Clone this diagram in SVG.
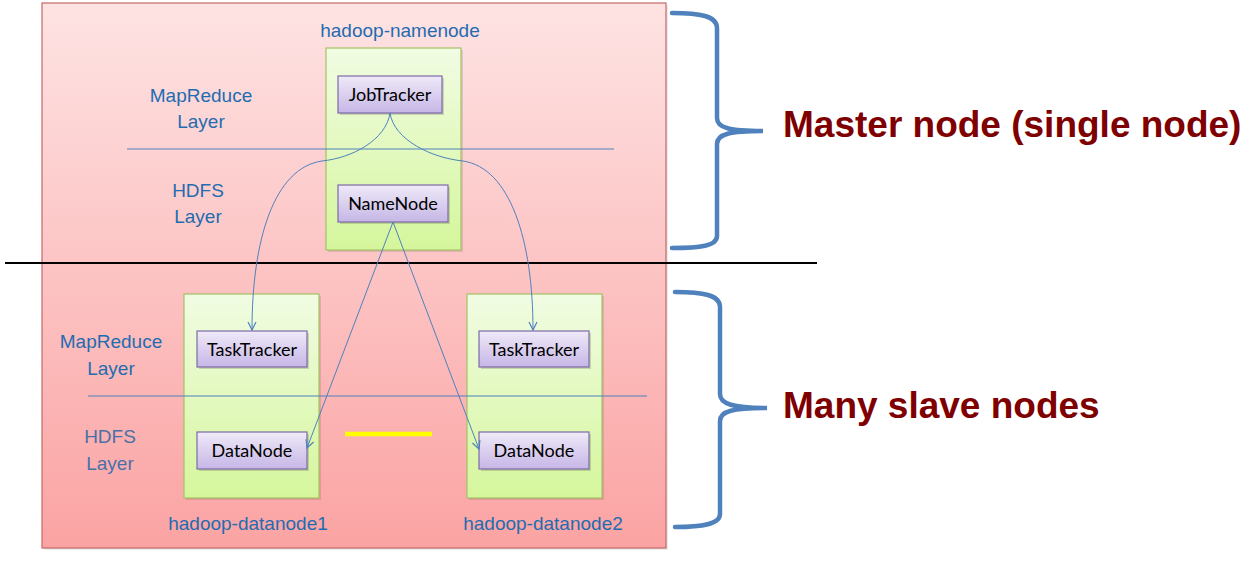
<svg xmlns="http://www.w3.org/2000/svg" width="1256" height="567" viewBox="0 0 1256 567">
<defs>
<linearGradient id="bg" x1="0" y1="0" x2="0" y2="1">
<stop offset="0" stop-color="#fee3e3"/>
<stop offset="1" stop-color="#fba3a3"/>
</linearGradient>
<linearGradient id="gr" x1="0" y1="0" x2="0" y2="1">
<stop offset="0" stop-color="#f1fce3"/>
<stop offset="1" stop-color="#d5f69c"/>
</linearGradient>
<linearGradient id="pu" x1="0" y1="0" x2="0" y2="1">
<stop offset="0" stop-color="#efeaf8"/>
<stop offset="1" stop-color="#c6b6e6"/>
</linearGradient>
<marker id="arr" viewBox="0 0 10 10" refX="9" refY="5" markerWidth="10" markerHeight="10" markerUnits="userSpaceOnUse" orient="auto">
<path d="M1,1 L9,5 L1,9" fill="none" stroke="#4f81bd" stroke-width="1.2"/>
</marker>
</defs>
<style>
.lbl{font-family:"Liberation Sans",Arial,sans-serif;font-size:19px;fill:#1f6cb0;text-anchor:middle}
.node{font-family:Lato,"Liberation Sans",sans-serif;font-size:18px;fill:#000;text-anchor:middle}
.big{font-family:"Liberation Sans",Arial,sans-serif;font-size:37px;font-weight:bold;fill:#7f0000}
.host{fill:url(#gr);stroke:#a3c263;stroke-width:1.2}
.proc{fill:url(#pu);stroke:#7d6aa8;stroke-width:1.2}
.layer{stroke:#4f81bd;stroke-width:1;fill:none}
.conn{stroke:#4f81bd;stroke-width:1;fill:none}
.brace{stroke:#4f81bd;stroke-width:4.5;fill:none;stroke-linecap:round}
</style>
<rect width="1256" height="567" fill="#fff"/>
<g id="cluster">
<rect x="44" y="5" width="624" height="545" fill="#000" opacity="0.08"/>
<rect x="42" y="3" width="624" height="545" fill="url(#bg)" stroke="#c46868" stroke-width="1.2"/>
<text class="lbl" x="201" y="102">MapReduce</text>
<text class="lbl" x="201" y="128">Layer</text>
<text class="lbl" x="198" y="197">HDFS</text>
<text class="lbl" x="198" y="223">Layer</text>
<text class="lbl" x="111" y="348">MapReduce</text>
<text class="lbl" x="111" y="375">Layer</text>
<text class="lbl" x="110" y="443" style="fill:#4a70a8">HDFS</text>
<text class="lbl" x="110" y="470" style="fill:#4a70a8">Layer</text>
<line x1="345" y1="434" x2="432" y2="434" stroke="#ffff00" stroke-width="4.5"/>
</g>
<line x1="5" y1="263" x2="817" y2="263" stroke="#000" stroke-width="2"/>
<g id="hadoop-namenode">
<rect x="328" y="50" width="135" height="202" fill="#000" opacity="0.1"/>
<rect class="host" x="326" y="48" width="135" height="202"/>
<text class="lbl" x="400" y="37">hadoop-namenode</text>
</g>
<g id="hadoop-datanode1">
<rect x="186" y="296" width="135" height="204" fill="#000" opacity="0.1"/>
<rect class="host" x="184" y="294" width="135" height="204"/>
<text class="lbl" x="248" y="530">hadoop-datanode1</text>
</g>
<g id="hadoop-datanode2">
<rect x="469" y="296" width="135" height="204" fill="#000" opacity="0.1"/>
<rect class="host" x="467" y="294" width="135" height="204"/>
<text class="lbl" x="543" y="530">hadoop-datanode2</text>
</g>
<g id="layer-lines">
<line class="layer" x1="127" y1="149" x2="614" y2="149"/>
<line class="layer" x1="88" y1="396" x2="647" y2="396"/>
</g>
<g id="jobtracker">
<rect x="340" y="78" width="104" height="37" fill="#000" opacity="0.15"/>
<rect class="proc" x="338" y="76" width="104" height="37"/>
<text class="node" x="390" y="101">JobTracker</text>
</g>
<g id="namenode">
<rect x="340" y="187" width="110" height="37" fill="#000" opacity="0.15"/>
<rect class="proc" x="338" y="185" width="110" height="37"/>
<text class="node" x="393" y="210">NameNode</text>
</g>
<g id="tasktracker1">
<rect x="199" y="333" width="110" height="36" fill="#000" opacity="0.15"/>
<rect class="proc" x="197" y="331" width="110" height="36"/>
<text class="node" x="252" y="356">TaskTracker</text>
</g>
<g id="datanode1">
<rect x="199" y="434" width="110" height="37" fill="#000" opacity="0.15"/>
<rect class="proc" x="197" y="432" width="110" height="37"/>
<text class="node" x="252" y="457">DataNode</text>
</g>
<g id="tasktracker2">
<rect x="481" y="333" width="110" height="36" fill="#000" opacity="0.15"/>
<rect class="proc" x="479" y="331" width="110" height="36"/>
<text class="node" x="534" y="356">TaskTracker</text>
</g>
<g id="datanode2">
<rect x="481" y="434" width="110" height="37" fill="#000" opacity="0.15"/>
<rect class="proc" x="479" y="432" width="110" height="37"/>
<text class="node" x="534" y="457">DataNode</text>
</g>
<g id="connectors">
<path class="conn" marker-end="url(#arr)" d="M390,113 C386,140 352,158 322,161 C274,168 252,240 252,330"/>
<path class="conn" marker-end="url(#arr)" d="M390,113 C394,140 432,158 463,161 C510,168 533,240 533,330"/>
<path class="conn" marker-end="url(#arr)" d="M393,222 L307,448"/>
<path class="conn" marker-end="url(#arr)" d="M393,222 L479,449"/>
</g>
<g id="master-brace">
<path class="brace" d="M672,13 C700,13 717,16 717,28 L717,118 C717,128 730,131 763,131 C730,131 717,134 717,144 L717,236 C717,246 700,248 672,248"/>
<text class="big" x="783" y="137">Master node (single node)</text>
</g>
<g id="slave-brace">
<path class="brace" d="M675,292 C703,292 720,295 720,307 L720,394 C720,404 733,408 767,408 C733,408 720,411 720,421 L720,514 C720,524 703,527 675,527"/>
<text class="big" x="783" y="418">Many slave nodes</text>
</g>
</svg>
